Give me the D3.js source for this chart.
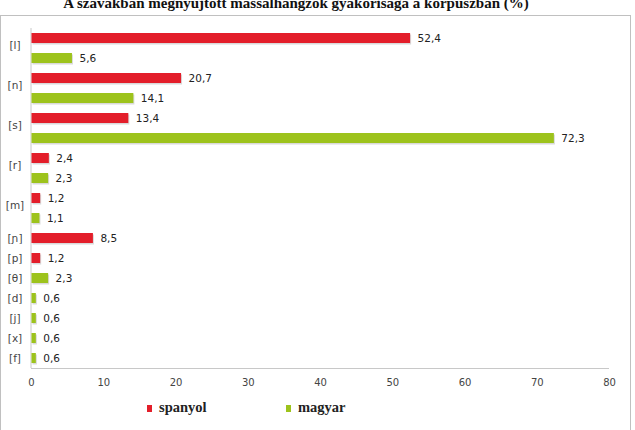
<!DOCTYPE html>
<html>
<head>
<meta charset="utf-8">
<script src="https://cdn.jsdelivr.net/npm/d3@7"></script>
<style>
  body { margin: 0; background: #fff; }
  svg { display: block; }
</style>
</head>
<body>
<svg id="chart" width="635" height="430"></svg>
<script>
const title = 'A szavakban megnyújtott mássalhangzók gyakorisága a korpuszban  (%)'
const categories = ['[l]', '[n]', '[s]', '[r]', '[m]', '[ɲ]', '[p]', '[θ]', '[d]', '[j]', '[x]', '[f]']
const spanyol = [52.4, 20.7, 13.4, 2.4, 1.2, 8.5, 1.2, null, null, null, null, null]
const magyar = [5.6, 14.1, 72.3, 2.3, 1.1, null, null, 2.3, 0.6, 0.6, 0.6, 0.6]
const xTicks = [0, 10, 20, 30, 40, 50, 60, 70, 80]
const seriesNames = ['spanyol', 'magyar']
const colors = { spanyol: '#e31e2a', magyar: '#9dc31c' }

const svg = d3.select('#chart')
const fmt = (v) => String(v).replace('.', ',')

// one row per drawn bar
const rows = []
categories.forEach((c, i) => {
  if (spanyol[i] != null) rows.push({ id: rows.length, cat: c, series: 'spanyol', value: spanyol[i] })
  if (magyar[i] != null) rows.push({ id: rows.length, cat: c, series: 'magyar', value: magyar[i] })
})

const x = d3.scaleLinear().domain([0, 80]).range([31, 609])
const y = d3.scaleBand().domain(rows.map((d) => d.id)).range([28, 368]).paddingInner(0.5).paddingOuter(0.25)

// frame
svg.append('rect')
  .attr('x', 0.5).attr('y', 15.5).attr('width', 630).attr('height', 440)
  .attr('fill', 'none').attr('stroke', '#c0c0c0')

// title sits partly above the top edge, as in the source image
svg.append('text')
  .attr('x', 296).attr('y', 8)
  .attr('text-anchor', 'middle')
  .attr('font-family', 'Liberation Serif, serif')
  .attr('font-weight', 'bold')
  .attr('font-size', 15)
  .attr('fill', '#111')
  .text(title)

// axes lines
svg.append('line')
  .attr('x1', x(0)).attr('x2', x(0)).attr('y1', 28).attr('y2', 368)
  .attr('stroke', '#c8c8c8')
svg.append('line')
  .attr('x1', x(0)).attr('x2', x(80)).attr('y1', 368.5).attr('y2', 368.5)
  .attr('stroke', '#c8c8c8')

const xAxis = svg.append('g')
  .attr('transform', 'translate(0,368)')
  .call(d3.axisBottom(x).tickValues(xTicks).tickSize(0).tickPadding(11))
xAxis.select('.domain').remove()
xAxis.selectAll('text')
  .attr('font-family', 'DejaVu Sans, sans-serif')
  .attr('font-size', 10)
  .attr('fill', '#444')

// shadows then bars
const barG = svg.append('g')
barG.selectAll('.shadow')
  .data(rows)
  .enter()
  .append('rect')
  .attr('class', 'shadow')
  .attr('x', x(0) + 1.5)
  .attr('y', (d) => y(d.id) + 1.5)
  .attr('width', (d) => x(d.value) - x(0))
  .attr('height', y.bandwidth())
  .attr('fill', '#cfcfcf')
  .attr('opacity', 0.8)

barG.selectAll('.bar')
  .data(rows)
  .enter()
  .append('rect')
  .attr('class', 'bar')
  .attr('x', x(0) + 0.5)
  .attr('y', (d) => y(d.id))
  .attr('width', (d) => x(d.value) - x(0))
  .attr('height', y.bandwidth())
  .attr('fill', (d) => colors[d.series])

barG.selectAll('.val')
  .data(rows)
  .enter()
  .append('text')
  .attr('class', 'val')
  .attr('x', (d) => x(d.value) + 8)
  .attr('y', (d) => y(d.id) + y.bandwidth() / 2)
  .attr('dy', '0.36em')
  .attr('font-family', 'DejaVu Sans, sans-serif')
  .attr('font-size', 10.5)
  .attr('fill', '#222')
  .text((d) => fmt(d.value))

// category labels, centred on their bars
const catG = svg.append('g')
categories.forEach((c) => {
  const ids = rows.filter((r) => r.cat === c).map((r) => r.id)
  const top = y(ids[0])
  const bottom = y(ids[ids.length - 1]) + y.bandwidth()
  const shift = ids.length > 1 ? -3 : 0
  catG.append('text')
    .attr('x', 15)
    .attr('y', (top + bottom) / 2 + shift)
    .attr('dy', '0.36em')
    .attr('text-anchor', 'middle')
    .attr('font-family', 'DejaVu Sans, sans-serif')
    .attr('font-size', 10.5)
    .attr('fill', '#444')
    .text(c)
})

// legend
const legendX = [147, 286]
const legend = svg.append('g')
seriesNames.forEach((s, i) => {
  legend.append('rect')
    .attr('x', legendX[i]).attr('y', 405)
    .attr('width', 5).attr('height', 7)
    .attr('fill', colors[s])
  legend.append('text')
    .attr('x', legendX[i] + 12).attr('y', 412)
    .attr('font-family', 'Liberation Serif, serif')
    .attr('font-weight', 'bold')
    .attr('font-size', 14.5)
    .attr('fill', '#222')
    .text(s)
})
</script>
</body>
</html>
